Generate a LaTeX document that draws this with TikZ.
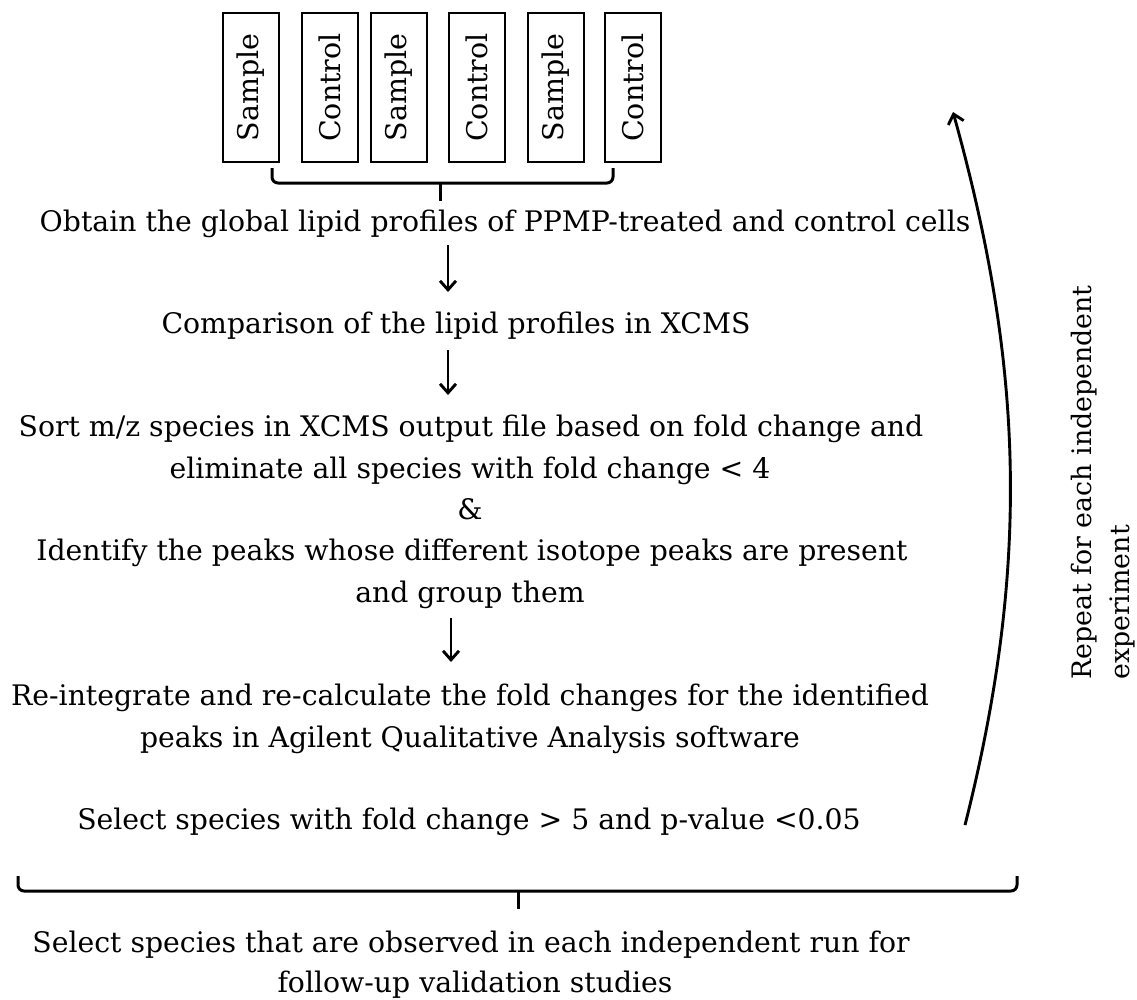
\documentclass[tikz,border=0pt]{standalone}
\usepackage{fontspec}
\setmainfont{DejaVu Serif}
\usetikzlibrary{arrows.meta}
\tikzset{
  txt/.style={inner sep=0pt, font=\fontsize{28.3}{41.5}\selectfont, align=center},
  rtxt/.style={inner sep=0pt, font=\fontsize{26.8}{40}\selectfont, rotate=90},
  sbox/.style={draw, line width=1.2pt, minimum width=56pt, minimum height=149pt, inner sep=0pt},
  stxt/.style={inner sep=0pt, font=\fontsize{28.5}{30}\selectfont, rotate=90},
  arr/.style={line width=2.9pt, -{Straight Barb[length=9pt,width=16pt,line width=2.9pt]}},
  brc/.style={line width=3pt, rounded corners=6pt},
  tick/.style={line width=3pt},
}
\begin{document}
\begin{tikzpicture}[x=1pt,y=-1pt]
\useasboundingbox (0,0) rectangle (1137,999);
% sample boxes
\node[sbox] (b1) at (251,87.5) {}; \node[stxt] (s1) at (b1) {Sample};
\node[sbox] (b2) at (330,87.5) {}; \node[stxt] (s2) at (b2) {Control};
\node[sbox] (b3) at (399,87.5) {}; \node[stxt] (s3) at (b3) {Sample};
\node[sbox] (b4) at (477,87.5) {}; \node[stxt] (s4) at (b4) {Control};
\node[sbox] (b5) at (556,87.5) {}; \node[stxt] (s5) at (b5) {Sample};
\node[sbox] (b6) at (633,87.5) {}; \node[stxt] (s6) at (b6) {Control};
% top brace
\coordinate (tb1) at (272,168);
\coordinate (tb2) at (613,168);
\coordinate (tbc) at (440,183);
\coordinate (tbt) at (440,201);
\draw[brc] (tb1) |- (tbc) -| (tb2);
\draw[tick] (tbc) -- (tbt);
% texts
\node[txt, anchor=base] (t1) at (505,231) {Obtain the global lipid profiles of PPMP-treated and control cells};
\node[txt, anchor=base] (t2) at (456,333) {Comparison of the lipid profiles in XCMS};
\node[txt, anchor=base] (t3a) at (471,436) {Sort m/z species in XCMS output file based on fold change and};
\node[txt, anchor=base] (t3b) at (470,478) {eliminate all species with fold change < 4};
\node[txt, anchor=base] (t3c) at (470,519) {\&};
\node[txt, anchor=base] (t3d) at (472,560) {Identify the peaks whose different isotope peaks are present};
\node[txt, anchor=base] (t3e) at (470,602) {and group them};
\node[txt, anchor=base] (t4a) at (470,705) {Re-integrate and re-calculate the fold changes for the identified};
\node[txt, anchor=base] (t4b) at (470,747) {peaks in Agilent Qualitative Analysis software};
\node[txt, anchor=base] (t5) at (469,829) {Select species with fold change > 5 and p-value <0.05};
% arrows
\coordinate (a1s) at (448,245); \coordinate (a1e) at (448,292);
\coordinate (a2s) at (448,350); \coordinate (a2e) at (448,395);
\coordinate (a3s) at (451,618); \coordinate (a3e) at (451,662);
\draw[arr] (a1s) -- (a1e);
\draw[arr] (a2s) -- (a2e);
\draw[arr] (a3s) -- (a3e);
% bottom brace
\coordinate (bb1) at (18,876);
\coordinate (bb2) at (1017,876);
\coordinate (bbc) at (518,891);
\coordinate (bbt) at (518,909);
\draw[brc] (bb1) |- (bbc) -| (bb2);
\draw[tick] (bbc) -- (bbt);
\node[txt, anchor=base] (t6a) at (471,952) {Select species that are observed in each independent run for};
\node[txt, anchor=base] (t6b) at (475,992) {follow-up validation studies};
% repeat arrow
\coordinate (cs) at (965,825);
\coordinate (ce) at (953,112);
\draw[arr] (cs) .. controls (1032,560) and (1022,360) .. (ce);
\node[rtxt, anchor=base west] (r1) at (1091,680) {Repeat for each independent};
\node[rtxt, anchor=base west] (r2) at (1129,680) {experiment};
\end{tikzpicture}
\end{document}
